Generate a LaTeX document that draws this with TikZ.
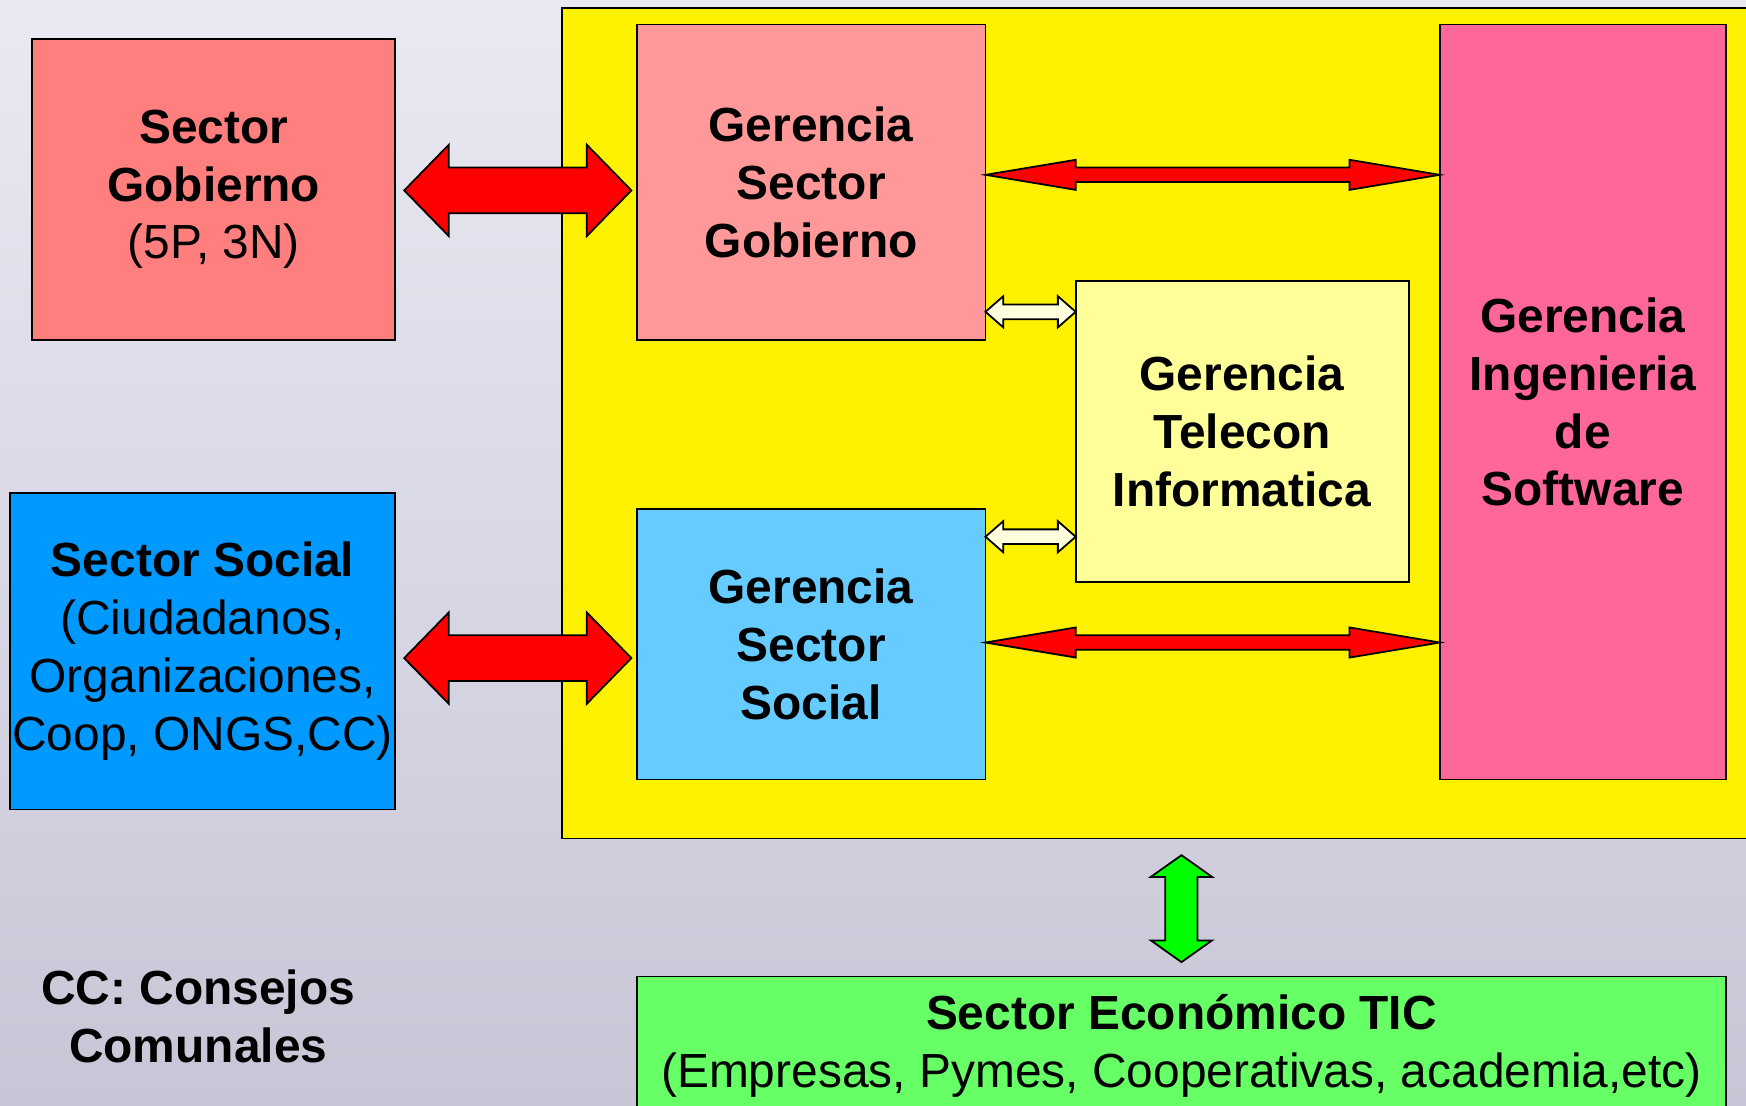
\documentclass[tikz,border=0pt]{standalone}
\usepackage{fontspec}
\setmainfont{Liberation Sans}
\usetikzlibrary{calc}

\definecolor{bgtop}{RGB}{233,233,243}
\definecolor{bgbot}{RGB}{200,198,214}
\definecolor{govred}{RGB}{255,127,127}
\definecolor{govpink}{RGB}{255,153,153}
\definecolor{socblue}{RGB}{0,153,255}
\definecolor{socsky}{RGB}{102,204,255}
\definecolor{telyellow}{RGB}{255,255,153}
\definecolor{softpink}{RGB}{255,102,153}
\definecolor{ecogreen}{RGB}{102,255,102}
\definecolor{linkcream}{RGB}{255,255,221}
\definecolor{linkgreen}{RGB}{0,255,0}

\tikzset{
  box/.style={draw=black,line width=0.8pt,inner sep=0pt,outer sep=0pt,
    align=center,font=\fontsize{21.5}{26}\selectfont},
  arrowline/.style={draw=black,line width=0.8pt,line join=miter}
}

% horizontal block arrow: fill, from, to, head length, head half width, shaft half width
\newcommand{\harr}[6]{%
  \draw[arrowline,fill=#1] let \p1=#2, \p2=#3 in
    (\x1,\y1) -- (\x1+#4,\y1+#5) -- (\x1+#4,\y1+#6) -- (\x2-#4,\y1+#6)
    -- (\x2-#4,\y1+#5) -- (\x2,\y1) -- (\x2-#4,\y1-#5) -- (\x2-#4,\y1-#6)
    -- (\x1+#4,\y1-#6) -- (\x1+#4,\y1-#5) -- cycle;}
% vertical block arrow: fill, bottom, top, head length, head half width, shaft half width
\newcommand{\varr}[6]{%
  \draw[arrowline,fill=#1] let \p1=#2, \p2=#3 in
    (\x1,\y1) -- (\x1+#5,\y1+#4) -- (\x1+#6,\y1+#4) -- (\x1+#6,\y2-#4)
    -- (\x1+#5,\y2-#4) -- (\x1,\y2) -- (\x1-#5,\y2-#4) -- (\x1-#6,\y2-#4)
    -- (\x1-#6,\y1+#4) -- (\x1-#5,\y1+#4) -- cycle;}

\begin{document}
\begin{tikzpicture}[x=0.5pt,y=-0.5pt]
        % frame
        \useasboundingbox (0,0) rectangle (1568,993);
        \clip (0,0) rectangle (1568,993);
        % background
        \shade[top color=bgtop,bottom color=bgbot] (0,0) rectangle (1568,993);
        % management frame
        \node[box,fill=yellow,minimum width=547.5pt,minimum height=373pt] (core) at (1052.5,380) {};
        % outside sectors
        \node[box,fill=govred,minimum width=163pt,minimum height=135pt] (sgob) at (192,170)
          {\textbf{Sector}\\\textbf{Gobierno}\\(5P, 3N)};
        \node[box,fill=socblue,minimum width=173pt,minimum height=142pt] (ssoc) at (182,585)
          {\textbf{Sector Social}\\(Ciudadanos,\\Organizaciones,\\Coop, ONGS,CC)};
        % management units
        \node[box,fill=govpink,minimum width=156.5pt,minimum height=141.5pt] (gsg) at (728.5,163.5)
          {\textbf{Gerencia}\\\textbf{Sector}\\\textbf{Gobierno}};
        \node[box,fill=socsky,minimum width=156.5pt,minimum height=121.5pt] (gss) at (728.5,578.5)
          {\textbf{Gerencia}\\\textbf{Sector}\\\textbf{Social}};
        \node[box,fill=telyellow,minimum width=149.5pt,minimum height=135.5pt] (gtel) at (1115.5,387.5)
          {\textbf{Gerencia}\\\textbf{Telecon}\\\textbf{Informatica}};
        \node[box,fill=softpink,minimum width=128.5pt,minimum height=339pt] (gsoft) at (1421.5,361)
          {\textbf{Gerencia}\\\textbf{Ingenieria}\\\textbf{de}\\\textbf{Software}};
        % economic sector
        \node[box,fill=ecogreen,minimum width=489pt,minimum height=62pt] (seco) at (1061,939)
          {\textbf{Sector Económico TIC}\\(Empresas, Pymes, Cooperativas, academia,etc)};
        % note
        \node[align=center,font=\fontsize{21.5}{26}\selectfont\bfseries] (ccnote) at (178,913)
          {CC: Consejos\\Comunales};
        % big red links
        \harr{red}{($(sgob.east)+(4pt,-0.5pt)$)}{($(gsg.west)+(-2.5pt,0)$)}{20pt}{20.5pt}{10.25pt}
        \harr{red}{($(ssoc.east)+(4pt,-3pt)$)}{($(gss.west)+(-2.5pt,0)$)}{20pt}{20.5pt}{10.25pt}
        % thin red links
        \harr{red}{($(gsg.east)+(0,3.25pt)$)}{(gsoft.west)}{40.5pt}{6.75pt}{3.25pt}
        \harr{red}{($(gss.east)+(0,0.75pt)$)}{(gsoft.west)}{40.5pt}{6.75pt}{3.25pt}
        % telecom links
        \harr{linkcream}{($(gsg.south east)+(0,12.5pt)$)}{(gtel.west)}{8pt}{7pt}{3.3pt}
        \harr{linkcream}{($(gss.north east)+(0,-12.5pt)$)}{(gtel.west)}{8pt}{7pt}{3.3pt}
        % green link
        \varr{linkgreen}{($(seco.north)+(0,6.5pt)$)}{($(core.south)+(0,-7.5pt)$)}{9.75pt}{13.75pt}{7.25pt}
    \end{tikzpicture}
\end{document}
